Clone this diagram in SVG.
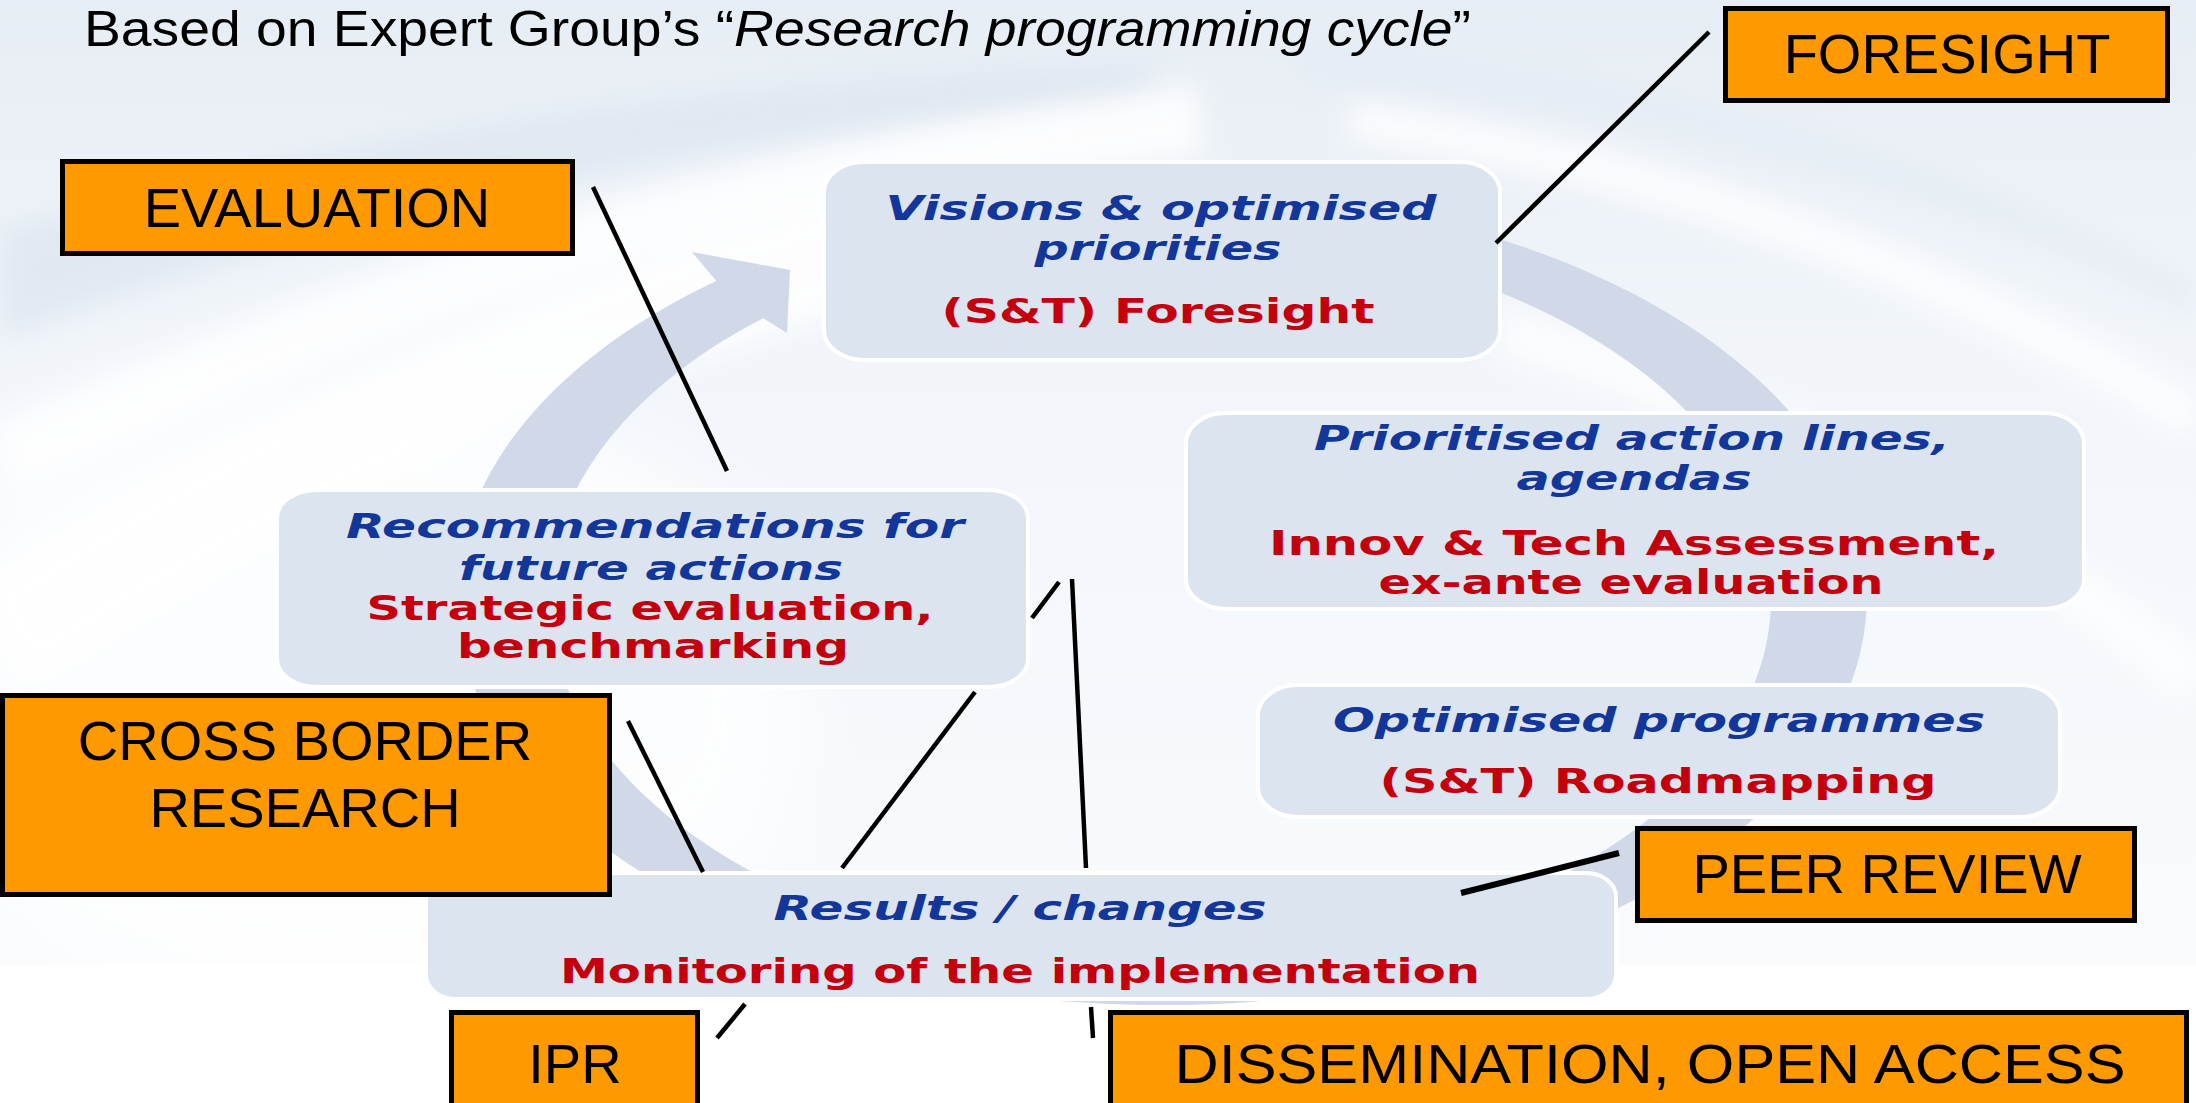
<svg xmlns="http://www.w3.org/2000/svg" width="2196" height="1103" viewBox="0 0 2196 1103">
<defs>
<linearGradient id="bg" x1="0" y1="0" x2="0" y2="1">
<stop offset="0" stop-color="#E7EDF4"/>
<stop offset="0.35" stop-color="#F1F5FA"/>
<stop offset="0.75" stop-color="#F6F9FC"/>
<stop offset="1" stop-color="#F9FBFD"/>
</linearGradient>
<filter id="blur" x="-20%" y="-50%" width="140%" height="200%"><feGaussianBlur stdDeviation="14"/></filter>
<filter id="softblur" x="-30%" y="-30%" width="160%" height="160%"><feGaussianBlur stdDeviation="40"/></filter>
<style>
.lbox{fill:#DCE4F0;stroke:#FFFFFF;stroke-width:4}
.obox{fill:#FF9900;stroke:#000000;stroke-width:5}
.ot{font-family:"Liberation Sans",Arial,sans-serif;font-size:56px;fill:#000000;text-anchor:middle}
.bt{font-family:"DejaVu Sans",Verdana,sans-serif;font-weight:bold;font-style:italic;font-size:34px;fill:#12369A;text-anchor:middle}
.rt{font-family:"DejaVu Sans",Verdana,sans-serif;font-weight:bold;font-size:34px;fill:#C4000E;text-anchor:middle}
.title{font-family:"Liberation Sans",Arial,sans-serif;font-size:50px;fill:#000000}
.conn line{stroke:#000000;stroke-width:4.5;stroke-linecap:butt}
</style>
</defs>
<rect x="0" y="0" width="2196" height="1103" fill="#FFFFFF"/>
<g id="background">
<rect x="0" y="0" width="2196" height="965" fill="url(#bg)"/>
<ellipse cx="350" cy="700" rx="450" ry="320" fill="#FFFFFF" opacity="0.75" filter="url(#softblur)"/>
<path d="M0,230 C300,150 650,80 1150,65 L1150,110 C700,125 320,220 0,340 Z" fill="#DCE4EE" opacity="0.7" filter="url(#blur)"/>
<path d="M0,460 C300,330 650,190 1200,120" fill="none" stroke="#FFFFFF" stroke-width="70" opacity="0.85" filter="url(#blur)"/>
<path d="M0,640 C250,480 500,340 900,240" fill="none" stroke="#FFFFFF" stroke-width="110" opacity="0.9" filter="url(#blur)"/>
<path d="M1350,120 C1700,170 2000,300 2196,420" fill="none" stroke="#FFFFFF" stroke-width="40" opacity="0.8" filter="url(#blur)"/>
<path d="M1500,330 C1800,420 2050,560 2196,680" fill="none" stroke="#FFFFFF" stroke-width="50" opacity="0.7" filter="url(#blur)"/>
<path d="M1300,60 C1700,90 2000,200 2196,300" fill="none" stroke="#E2E9F2" stroke-width="30" opacity="0.6" filter="url(#blur)"/>
</g>
<g id="cycle-arrow">
<path d="M1037.6,195.5 A705,408 0 1 1 716.3,280.9 L692,252 L790,270 L787,333 L763.2,318.2 A611,368 0 1 0 1053.9,235.6 Z" fill="#D1D9E8"/>
</g>
<g id="node-visions">
<rect class="lbox" x="824" y="162" width="676" height="198" rx="40" ry="30"/>
<text class="bt" x="1161" y="220" textLength="551" lengthAdjust="spacingAndGlyphs">Visions &amp; optimised</text>
<text class="bt" x="1158" y="260" textLength="247" lengthAdjust="spacingAndGlyphs">priorities</text>
<text class="rt" x="1158" y="323" textLength="433" lengthAdjust="spacingAndGlyphs">(S&amp;T) Foresight</text>
</g>
<g id="node-prioritised">
<rect class="lbox" x="1186" y="413" width="898" height="196" rx="40" ry="30"/>
<text class="bt" x="1632" y="450" textLength="636" lengthAdjust="spacingAndGlyphs">Prioritised action lines,</text>
<text class="bt" x="1634" y="490" textLength="235" lengthAdjust="spacingAndGlyphs">agendas</text>
<text class="rt" x="1634" y="555" textLength="730" lengthAdjust="spacingAndGlyphs">Innov &amp; Tech Assessment,</text>
<text class="rt" x="1631" y="594" textLength="505" lengthAdjust="spacingAndGlyphs">ex-ante evaluation</text>
</g>
<g id="node-optimised">
<rect class="lbox" x="1258" y="685" width="802" height="132" rx="40" ry="30"/>
<text class="bt" x="1659" y="732" textLength="652" lengthAdjust="spacingAndGlyphs">Optimised programmes</text>
<text class="rt" x="1658" y="793" textLength="557" lengthAdjust="spacingAndGlyphs">(S&amp;T) Roadmapping</text>
</g>
<g id="node-recommendations">
<rect class="lbox" x="277" y="490" width="751" height="197" rx="40" ry="28"/>
<text class="bt" x="655" y="538" textLength="618" lengthAdjust="spacingAndGlyphs">Recommendations for</text>
<text class="bt" x="651" y="580" textLength="384" lengthAdjust="spacingAndGlyphs">future actions</text>
<text class="rt" x="650" y="620" textLength="567" lengthAdjust="spacingAndGlyphs">Strategic evaluation,</text>
<text class="rt" x="653" y="658" textLength="392" lengthAdjust="spacingAndGlyphs">benchmarking</text>
</g>
<g id="node-results">
<rect class="lbox" x="426" y="873" width="1190" height="126" rx="30" ry="24"/>
<text class="bt" x="1020" y="920" textLength="493" lengthAdjust="spacingAndGlyphs">Results / changes</text>
<text class="rt" x="1020" y="983" textLength="920" lengthAdjust="spacingAndGlyphs">Monitoring of the implementation</text>
</g>
<g id="connectors" class="conn">
<line x1="1709" y1="32" x2="1496" y2="243"/>
<line x1="593" y1="187" x2="727" y2="471"/>
<line x1="1059" y1="582" x2="1032" y2="618"/>
<line x1="975" y1="692" x2="842" y2="868"/>
<line x1="1072" y1="579" x2="1086" y2="868"/>
<line x1="1091" y1="1007" x2="1093" y2="1038"/>
<line x1="628" y1="721" x2="703" y2="872"/>
<line x1="745" y1="1004" x2="717" y2="1038"/>
<line x1="1461" y1="893" x2="1619" y2="853" style="stroke-width:6"/>
</g>
<g id="node-evaluation">
<rect class="obox" x="62.5" y="161.5" width="510" height="92"/>
<text class="ot" x="317" y="227">EVALUATION</text>
</g>
<g id="node-foresight">
<rect class="obox" x="1725.5" y="8.5" width="442" height="92"/>
<text class="ot" x="1947" y="73">FORESIGHT</text>
</g>
<g id="node-crossborder">
<rect class="obox" x="2.5" y="695.5" width="607" height="199"/>
<text class="ot" x="305" y="760">CROSS BORDER</text>
<text class="ot" x="305" y="827">RESEARCH</text>
</g>
<g id="node-ipr">
<rect class="obox" x="451.5" y="1012.5" width="246" height="120"/>
<text class="ot" x="575" y="1083">IPR</text>
</g>
<g id="node-peerreview">
<rect class="obox" x="1637.5" y="828.5" width="497" height="92"/>
<text class="ot" x="1887" y="893">PEER REVIEW</text>
</g>
<g id="node-dissemination">
<rect class="obox" x="1110.5" y="1012.5" width="1076" height="120"/>
<text class="ot" x="1650" y="1083" textLength="951" lengthAdjust="spacingAndGlyphs">DISSEMINATION, OPEN ACCESS</text>
</g>
<g id="title">
<text class="title" x="84" y="46" textLength="1387" lengthAdjust="spacingAndGlyphs">Based on Expert Group’s “<tspan font-style="italic">Research programming cycle</tspan>”</text>
</g>
</svg>
